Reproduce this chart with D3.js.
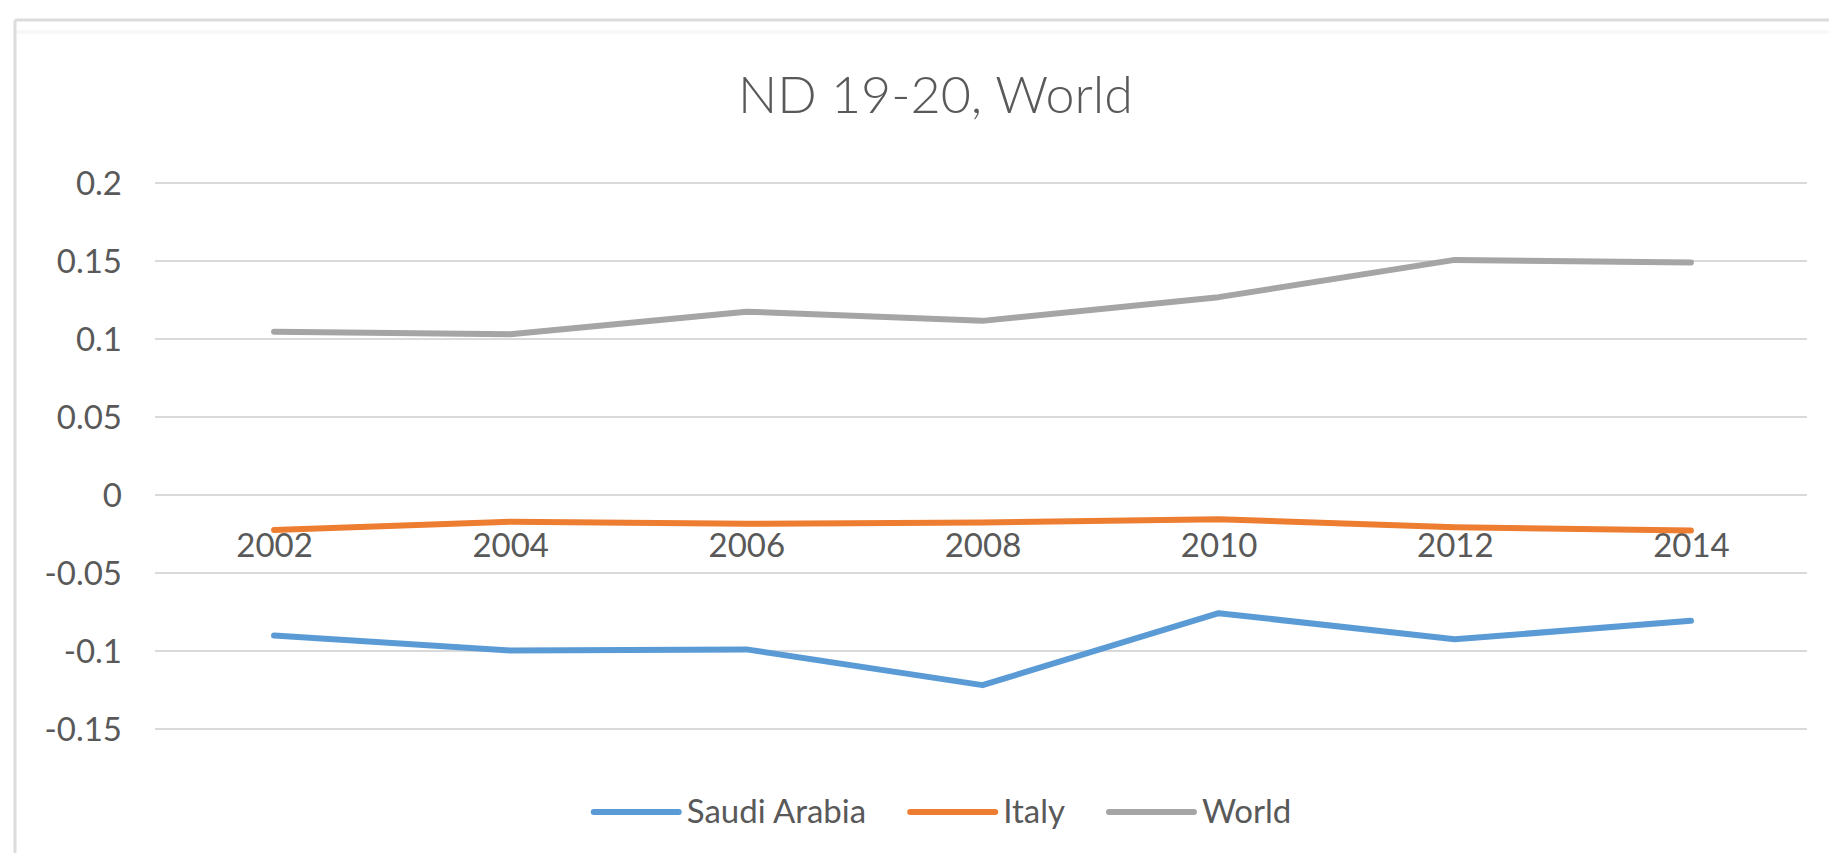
<!DOCTYPE html>
<html>
<head>
<meta charset="utf-8">
<script src="https://cdn.jsdelivr.net/npm/d3@7"></script>
<style>
  html, body { margin: 0; padding: 0; background: #ffffff; }
  svg { display: block; }
  text { font-family: "Lato", "Open Sans", sans-serif; fill: #595959; }
</style>
</head>
<body>
<svg id="chart" width="1829" height="853"></svg>
<script>
// Chart data
const years = ["2002", "2004", "2006", "2008", "2010", "2012", "2014"];
const saudiArabia = [-0.0904, -0.1000, -0.0993, -0.1222, -0.0761, -0.0928, -0.0810];
const italy       = [-0.0227, -0.0174, -0.0188, -0.0180, -0.0159, -0.0210, -0.0231];
const world       = [0.1044, 0.1027, 0.1172, 0.1113, 0.1265, 0.1504, 0.1487];
const seriesNames = ["Saudi Arabia", "Italy", "World"];
const seriesColors = ["#5B9BD5", "#ED7D31", "#A5A5A5"];
const yTicks = [0.2, 0.15, 0.1, 0.05, 0, -0.05, -0.1, -0.15];
const yTickLabels = ["0.2", "0.15", "0.1", "0.05", "0", "-0.05", "-0.1", "-0.15"];
const title = "ND 19-20, World";

const series = [saudiArabia, italy, world].map((values, i) => ({
  name: seriesNames[i],
  color: seriesColors[i],
  values: values.map((v, j) => ({ year: years[j], value: v }))
}));

const svg = d3.select("#chart");

// Chart-area frame (top and left edges)
const frame = svg.append("g").attr("stroke", "#dcdcdc").attr("stroke-width", 3).attr("fill", "none");
frame.append("line").attr("x1", 15).attr("x2", 1829).attr("y1", 20).attr("y2", 20);
frame.append("line").attr("x1", 15).attr("x2", 15).attr("y1", 20).attr("y2", 853);
svg.append("line").attr("x1", 17).attr("x2", 1829).attr("y1", 32).attr("y2", 32)
  .attr("stroke", "#f6f6f6").attr("stroke-width", 3);

// Scales
const plotLeft = 156, plotRight = 1809;
const x = d3.scalePoint().domain(years).range([plotLeft, plotRight]).padding(0.5);
const y = d3.scaleLinear().domain([-0.15, 0.2]).range([728.5, 182.5]);

// Title
svg.append("text")
  .attr("x", 935.5)
  .attr("y", 113)
  .attr("text-anchor", "middle")
  .style("font-size", "52px")
  .style("font-weight", 300)
  .text(title);

// Horizontal gridlines
const grid = svg.append("g")
  .attr("transform", `translate(${plotLeft - 1},0)`)
  .call(d3.axisLeft(y).tickValues(yTicks).tickSize(-(plotRight - plotLeft - 1)).tickFormat(""));
grid.select(".domain").remove();
grid.selectAll(".tick line").attr("stroke", "#d9d9d9").attr("stroke-width", 2);

// Value axis labels
const yAxis = svg.append("g")
  .attr("transform", "translate(122,0)")
  .call(d3.axisLeft(y).tickValues(yTicks).tickSize(0).tickPadding(0)
    .tickFormat((d, i) => yTickLabels[i]));
yAxis.select(".domain").remove();
yAxis.selectAll(".tick text")
  .attr("x", 0)
  .attr("dy", "0.36em")
  .attr("fill", "#595959")
  .style("font-family", "Lato, 'Open Sans', sans-serif")
  .style("font-size", "33px");

// Category axis labels, placed below the zero line
const xAxis = svg.append("g")
  .attr("transform", `translate(0,${y(0)})`)
  .call(d3.axisBottom(x).tickSize(0).tickPadding(0));
xAxis.select(".domain").remove();
xAxis.selectAll(".tick text")
  .attr("y", 62)
  .attr("dy", 0)
  .attr("fill", "#595959")
  .style("font-family", "Lato, 'Open Sans', sans-serif")
  .style("font-size", "33px");

// Series lines
const line = d3.line()
  .x(d => x(d.year))
  .y(d => y(d.value));

svg.append("g")
  .selectAll("path")
  .data(series)
  .join("path")
  .attr("d", d => line(d.values))
  .attr("fill", "none")
  .attr("stroke", d => d.color)
  .attr("stroke-width", 6)
  .attr("stroke-linejoin", "round")
  .attr("stroke-linecap", "round");

// Legend
const legend = svg.append("g");
const legendY = 812, swatchLen = 85, swatchGap = 8, itemGap = 44;
const items = legend.selectAll("g").data(series).join("g");
items.append("line")
  .attr("x1", 0).attr("x2", swatchLen)
  .attr("y1", 0).attr("y2", 0)
  .attr("stroke", d => d.color)
  .attr("stroke-width", 6)
  .attr("stroke-linecap", "round");
items.append("text")
  .attr("x", swatchLen + swatchGap)
  .attr("y", 11)
  .style("font-size", "33px")
  .text(d => d.name);

let cursor = 0;
const widths = [];
items.each(function () {
  const w = swatchLen + swatchGap + d3.select(this).select("text").node().getComputedTextLength();
  widths.push(w);
});
const total = d3.sum(widths) + itemGap * (widths.length - 1);
const startX = 942.5 - total / 2;
items.attr("transform", (d, i) => {
  const t = `translate(${startX + cursor},${legendY})`;
  cursor += widths[i] + itemGap;
  return t;
});
</script>
</body>
</html>
